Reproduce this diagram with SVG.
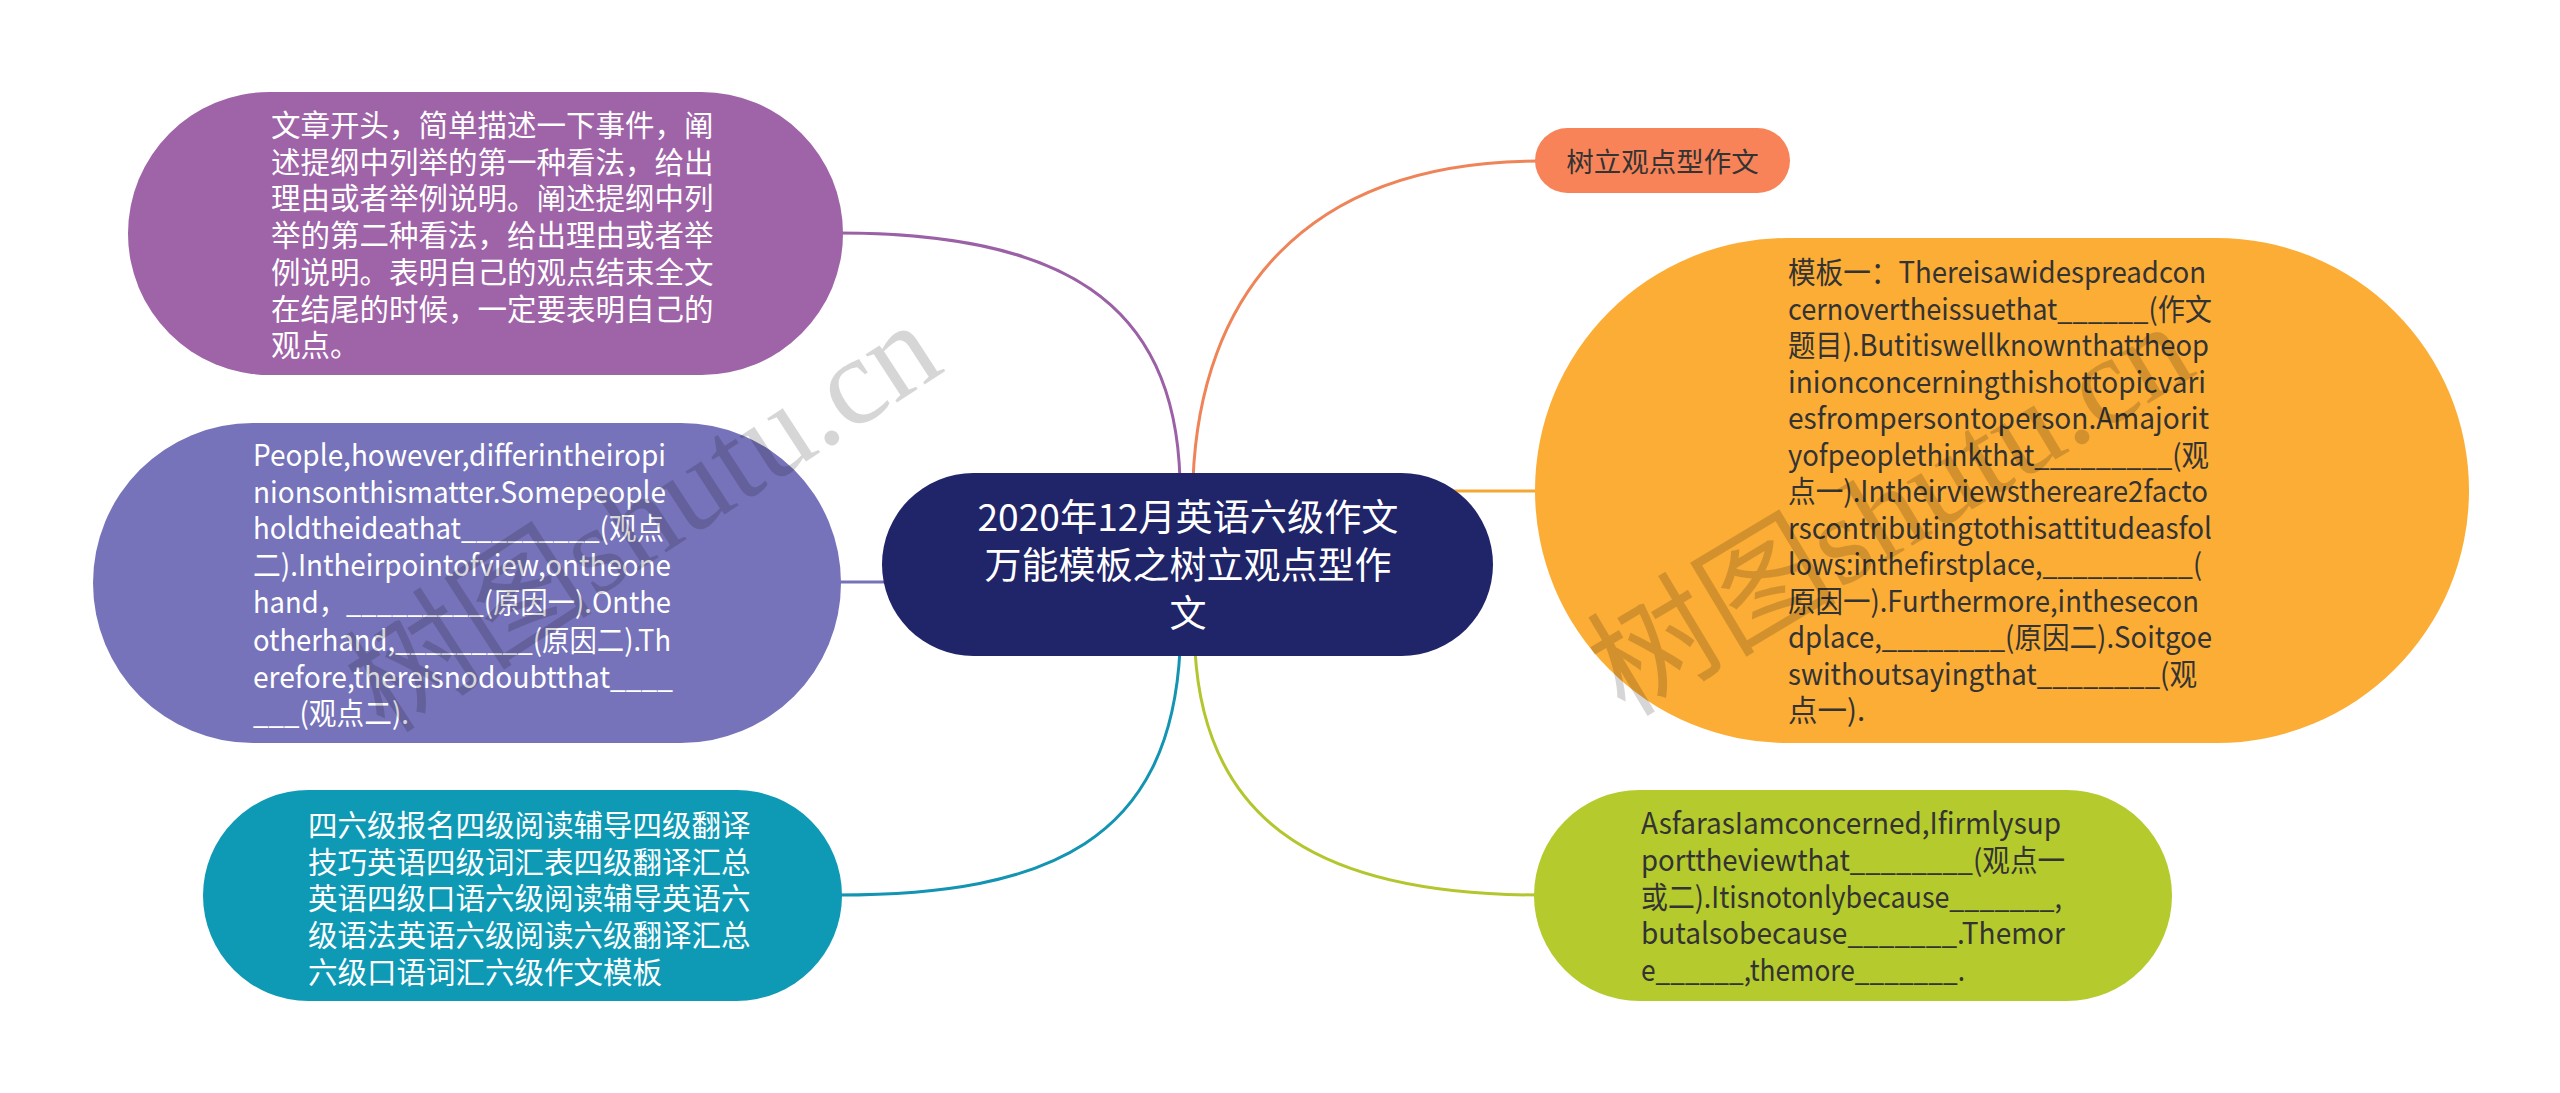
<svg xmlns="http://www.w3.org/2000/svg" width="2560" height="1093" viewBox="0 0 2560 1093">
<style>
.t{font-family:"Noto Sans CJK SC","Noto Sans",sans-serif;font-size:29.5px;}
.w{fill:#ffffff;}
.d{fill:#333333;}
.c{fill:none;stroke-width:3;}
.wm{font-family:"Liberation Serif","Noto Sans CJK SC",serif;font-size:125px;fill:#000000;fill-opacity:0.16;}
</style>
<rect width="2560" height="1093" fill="#ffffff"/>
<g id="connectors">
<path class="c" stroke="#9b60a6" d="M 1180 480 C 1175 300, 1060 233, 838 233"/>
<path class="c" stroke="#ee8457" d="M 1193 480 C 1200 300, 1300 161, 1540 161"/>
<path class="c" stroke="#f4a733" d="M 1440 491 L 1540 491"/>
<path class="c" stroke="#7672b8" d="M 835 582 L 890 582"/>
<path class="c" stroke="#1294b2" d="M 1180 650 C 1170 840, 1050 895, 838 895"/>
<path class="c" stroke="#b3c62e" d="M 1195 650 C 1205 830, 1330 895, 1540 895"/>
</g>
<g id="node-center">
<rect x="882" y="473" width="611" height="183" rx="91.5" ry="91.5" fill="#202468"/>
<text class="t w" x="1188" y="531" text-anchor="middle" style="font-size:37px" textLength="421" lengthAdjust="spacingAndGlyphs">2020年12月英语六级作文</text>
<text class="t w" x="1188" y="579" text-anchor="middle" style="font-size:37px">万能模板之树立观点型作</text>
<text class="t w" x="1188" y="627" text-anchor="middle" style="font-size:37px">文</text>
</g>
<g id="node-purple">
<rect x="128" y="92" width="715" height="283" rx="141.5" ry="141.5" fill="#9f63a8"/>
<text class="t w" x="271" y="136">文章开头，简单描述一下事件，阐</text>
<text class="t w" x="271" y="172.7">述提纲中列举的第一种看法，给出</text>
<text class="t w" x="271" y="209.4">理由或者举例说明。阐述提纲中列</text>
<text class="t w" x="271" y="246.1">举的第二种看法，给出理由或者举</text>
<text class="t w" x="271" y="282.8">例说明。表明自己的观点结束全文</text>
<text class="t w" x="271" y="319.5">在结尾的时候，一定要表明自己的</text>
<text class="t w" x="271" y="356.2">观点。</text>
</g>
<g id="node-violet">
<rect x="93" y="423" width="748" height="320" rx="160" ry="160" fill="#7673ba"/>
<text class="t w" x="253" y="466" textLength="413" lengthAdjust="spacingAndGlyphs">People,however,differintheiropi</text>
<text class="t w" x="253" y="503" textLength="413" lengthAdjust="spacingAndGlyphs">nionsonthismatter.Somepeople</text>
<text class="t w" x="253" y="539" textLength="411" lengthAdjust="spacingAndGlyphs">holdtheideathat_________(观点</text>
<text class="t w" x="253" y="576" textLength="418" lengthAdjust="spacingAndGlyphs">二).Intheirpointofview,ontheone</text>
<text class="t w" x="253" y="613" textLength="418" lengthAdjust="spacingAndGlyphs">hand，_________(原因一).Onthe</text>
<text class="t w" x="253" y="651" textLength="418" lengthAdjust="spacingAndGlyphs">otherhand,_________(原因二).Th</text>
<text class="t w" x="253" y="688" textLength="420" lengthAdjust="spacingAndGlyphs">erefore,thereisnodoubtthat____</text>
<text class="t w" x="253" y="724" textLength="156" lengthAdjust="spacingAndGlyphs">___(观点二).</text>
</g>
<g id="node-teal">
<rect x="203" y="790" width="639" height="211" rx="105.5" ry="105.5" fill="#0e9ab5"/>
<text class="t w" x="308" y="836">四六级报名四级阅读辅导四级翻译</text>
<text class="t w" x="308" y="873">技巧英语四级词汇表四级翻译汇总</text>
<text class="t w" x="308" y="909">英语四级口语六级阅读辅导英语六</text>
<text class="t w" x="308" y="946">级语法英语六级阅读六级翻译汇总</text>
<text class="t w" x="308" y="983">六级口语词汇六级作文模板</text>
</g>
<g id="node-orange">
<rect x="1535" y="128" width="255" height="65" rx="32.5" ry="32.5" fill="#f88358"/>
<text class="t d" x="1662.5" y="172" text-anchor="middle" style="font-size:27.5px">树立观点型作文</text>
</g>
<g id="node-yellow">
<rect x="1535" y="238" width="934" height="505" rx="252.5" ry="252.5" fill="#fbad36"/>
<text class="t d" x="1788" y="283" textLength="418" lengthAdjust="spacingAndGlyphs">模板一：Thereisawidespreadcon</text>
<text class="t d" x="1788" y="319.5" textLength="424" lengthAdjust="spacingAndGlyphs">cernovertheissuethat______(作文</text>
<text class="t d" x="1788" y="356" textLength="421" lengthAdjust="spacingAndGlyphs">题目).Butitiswellknownthattheop</text>
<text class="t d" x="1788" y="392.5" textLength="418" lengthAdjust="spacingAndGlyphs">inionconcerningthishottopicvari</text>
<text class="t d" x="1788" y="429" textLength="421" lengthAdjust="spacingAndGlyphs">esfrompersontoperson.Amajorit</text>
<text class="t d" x="1788" y="465.5" textLength="421" lengthAdjust="spacingAndGlyphs">yofpeoplethinkthat_________(观</text>
<text class="t d" x="1788" y="502" textLength="420" lengthAdjust="spacingAndGlyphs">点一).Intheirviewsthereare2facto</text>
<text class="t d" x="1788" y="538.5" textLength="424" lengthAdjust="spacingAndGlyphs">rscontributingtothisattitudeasfol</text>
<text class="t d" x="1788" y="575" textLength="414" lengthAdjust="spacingAndGlyphs">lows:inthefirstplace,__________(</text>
<text class="t d" x="1788" y="611.5" textLength="411" lengthAdjust="spacingAndGlyphs">原因一).Furthermore,inthesecon</text>
<text class="t d" x="1788" y="648" textLength="424" lengthAdjust="spacingAndGlyphs">dplace,________(原因二).Soitgoe</text>
<text class="t d" x="1788" y="684.5" textLength="409" lengthAdjust="spacingAndGlyphs">swithoutsayingthat________(观</text>
<text class="t d" x="1788" y="721">点一).</text>
</g>
<g id="node-green">
<rect x="1534" y="790" width="638" height="211" rx="105.5" ry="105.5" fill="#b5ca2c"/>
<text class="t d" x="1641" y="834" textLength="420" lengthAdjust="spacingAndGlyphs">AsfarasIamconcerned,Ifirmlysup</text>
<text class="t d" x="1641" y="871" textLength="424" lengthAdjust="spacingAndGlyphs">porttheviewthat________(观点一</text>
<text class="t d" x="1641" y="908" textLength="421" lengthAdjust="spacingAndGlyphs">或二).Itisnotonlybecause_______,</text>
<text class="t d" x="1641" y="944" textLength="424" lengthAdjust="spacingAndGlyphs">butalsobecause_______.Themor</text>
<text class="t d" x="1641" y="981" textLength="324" lengthAdjust="spacingAndGlyphs">e______,themore_______.</text>
</g>
<g id="watermarks">
<text class="wm" transform="translate(385,735) rotate(-33)">树图shutu.cn</text>
<text class="wm" transform="translate(1625,718) rotate(-31)">树图shutu.cn</text>
</g>
</svg>
